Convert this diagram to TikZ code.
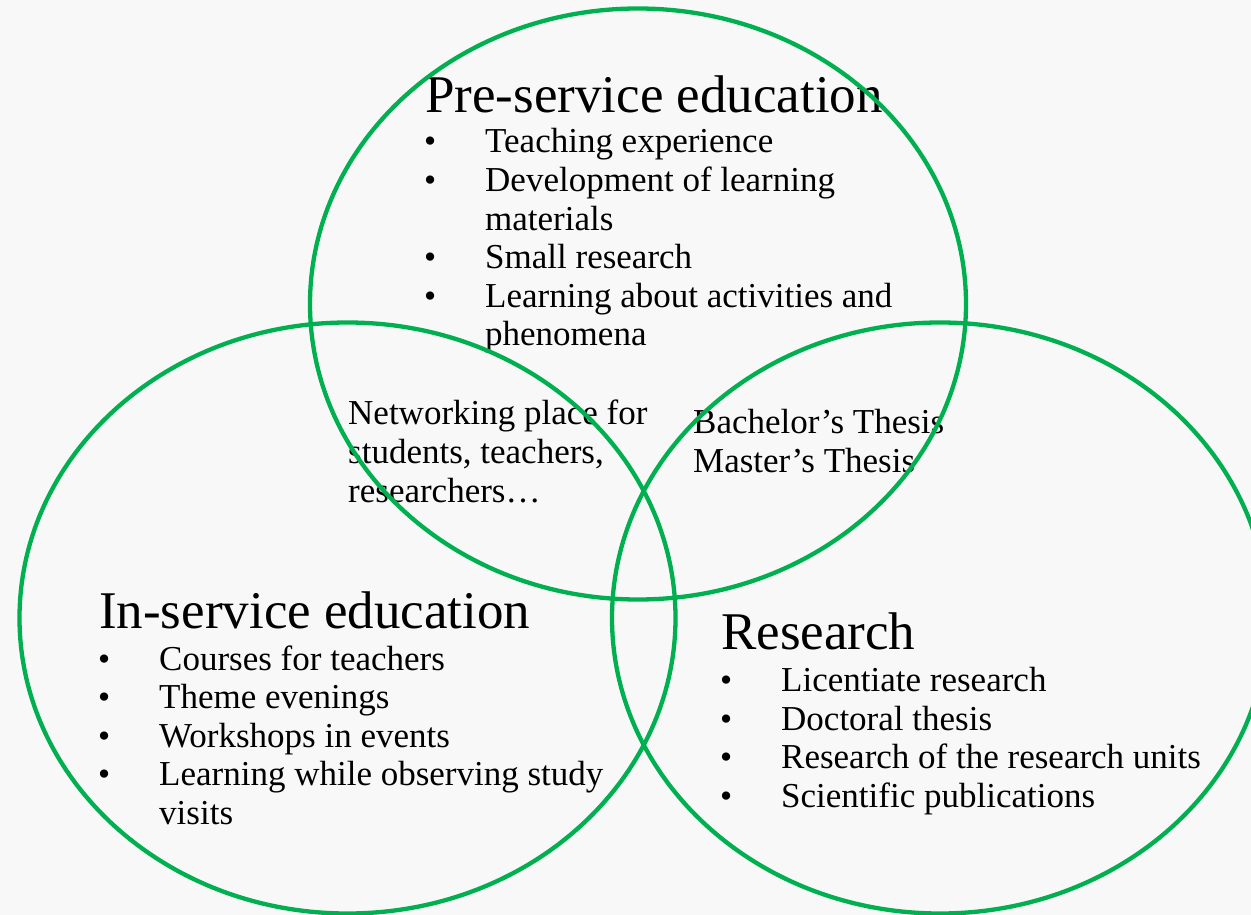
\documentclass[tikz,border=0pt]{standalone}
\usepackage{fontspec}
\setmainfont{Liberation Serif}
\definecolor{vgreen}{HTML}{00B050}
\definecolor{bgcol}{HTML}{F8F8F8}
\tikzset{
  ttl/.style={anchor=base west, inner sep=0pt, font=\fontsize{53}{60}\selectfont},
  itm/.style={anchor=base west, inner sep=0pt, font=\fontsize{35}{40}\selectfont},
  blt/.style={anchor=base west, inner sep=0pt, font=\fontsize{34.5}{40}\selectfont},
  venn/.style={draw=vgreen, line width=4.3pt},
}
\begin{document}
\begin{tikzpicture}[x=1pt,y=-1pt]
\useasboundingbox (0,0) rectangle (1251,915);
\fill[bgcol] (0,0) rectangle (1251,915);
% Pre-service education
\node[ttl] (pt) at (425,113) {Pre-service education};
\node[blt] (pb1) at (424,153) {•};
\node[itm] (p1) at (485,153) {Teaching experience};
\node[blt] (pb2) at (424,192) {•};
\node[itm] (p2) at (485,192) {Development of learning};
\node[itm] (p2b) at (485,230) {materials};
\node[blt] (pb3) at (424,268) {•};
\node[itm] (p3) at (485,268) {Small research};
\node[blt] (pb4) at (424,307) {•};
\node[itm] (p4) at (485,307) {Learning about activities and};
\node[itm] (p4b) at (485,345) {phenomena};
% Networking
\node[itm] (n1) at (348,424) {Networking place for};
\node[itm] (n2) at (348,463) {students, teachers,};
\node[itm] (n3) at (348,502) {researchers…};
% Theses
\node[itm] (t1) at (693,433) {Bachelor’s Thesis};
\node[itm] (t2) at (693,472) {Master’s Thesis};
% In-service education
\node[ttl] (it) at (99,628) {In-service education};
\node[blt] (ib1) at (98,670) {•};
\node[itm] (i1) at (159,670) {Courses for teachers};
\node[blt] (ib2) at (98,708.5) {•};
\node[itm] (i2) at (159,708.5) {Theme evenings};
\node[blt] (ib3) at (98,747) {•};
\node[itm] (i3) at (159,747) {Workshops in events};
\node[blt] (ib4) at (98,785.5) {•};
\node[itm] (i4) at (159,785.5) {Learning while observing study};
\node[itm] (i4b) at (159,824) {visits};
% Research
\node[ttl] (rt) at (721,649) {Research};
\node[blt] (rb1) at (720,691) {•};
\node[itm] (r1) at (781,691) {Licentiate research};
\node[blt] (rb2) at (720,730) {•};
\node[itm] (r2) at (781,730) {Doctoral thesis};
\node[blt] (rb3) at (720,768) {•};
\node[itm] (r3) at (781,768) {Research of the research units};
\node[blt] (rb4) at (720,807) {•};
\node[itm] (r4) at (781,807) {Scientific publications};
% Circles
\draw[venn] (638,304) ellipse [x radius=328pt, y radius=295.5pt];
\draw[venn] (347.5,618) ellipse [x radius=328pt, y radius=295.5pt];
\draw[venn] (940,618) ellipse [x radius=328pt, y radius=295.5pt];
\end{tikzpicture}
\end{document}
